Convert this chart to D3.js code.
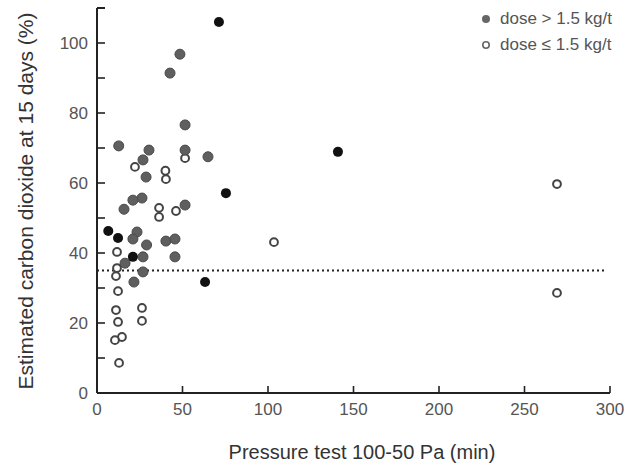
<!DOCTYPE html>
<html>
<head>
<meta charset="utf-8">
<script src="https://cdn.jsdelivr.net/npm/d3@7"></script>
<style>
  body { margin: 0; background: #fff; }
  text { font-family: "Liberation Sans", Arial, sans-serif; }
</style>
</head>
<body>
<div id="chart"></div>
<script>
// points: [pressure test (min), CO2 (%)]
const doseHigh = [
  [48.5, 96.8], [42.7, 91.4], [51.5, 76.6], [12.7, 70.6], [30.4, 69.4], [51.5, 69.4],
  [64.9, 67.5], [26.9, 66.6], [28.7, 61.7], [26.3, 55.7], [21, 55.1], [15.8, 52.5],
  [51.5, 53.7], [23.4, 46], [21, 44], [29, 42.3], [40.3, 43.4], [45.6, 44],
  [45.6, 38.9], [26.9, 38.9], [16.4, 37.1], [26.9, 34.6], [21.6, 31.7]
];
// same group, printed darker in the scan
const doseHighDark = [
  [71.3, 106], [75.4, 57.1], [140.9, 68.9], [63.2, 31.7], [12.3, 44.3], [21, 38.9], [6.6, 46.3]
];
const doseLow = [
  [51.5, 67.1], [22.2, 64.6], [40, 63.5], [40.3, 61.1], [36.3, 52.9], [36.3, 50.3],
  [46.2, 52], [11.7, 40.3], [11.7, 35.7], [11.1, 33.4], [12.3, 29.1], [11.1, 23.7],
  [12.3, 20.3], [26.3, 24.3], [26.3, 20.6], [14.6, 16], [10.5, 15.1], [12.9, 8.6],
  [103.5, 43.1], [269, 59.7], [269, 28.6]
];
const threshold = 35;
const xTicks = [0, 50, 100, 150, 200, 250, 300];
const yTicks = d3.range(0, 101, 10);
const yLabels = [0, 20, 40, 60, 80, 100];
const legendLabels = ["dose > 1.5 kg/t", "dose \u2264 1.5 kg/t"];

const width = 634, height = 469;
const svg = d3.select("#chart").append("svg")
  .attr("width", width).attr("height", height);

const x = d3.scaleLinear().domain([0, 300]).range([97, 610]);
const y = d3.scaleLinear().domain([0, 110]).range([393, 8]);

// axes
svg.append("line")
  .attr("x1", x(0)).attr("x2", x(300)).attr("y1", y(0)).attr("y2", y(0))
  .attr("stroke", "#222").attr("stroke-width", 2);
svg.append("line")
  .attr("x1", x(0)).attr("x2", x(0)).attr("y1", y(0)).attr("y2", y(110))
  .attr("stroke", "#222").attr("stroke-width", 2);
svg.append("line")
  .attr("x1", x(0)).attr("x2", x(0) + 8).attr("y1", y(110)).attr("y2", y(110))
  .attr("stroke", "#222").attr("stroke-width", 2);

svg.selectAll(".ytick").data(yTicks).enter().append("line")
  .attr("class", "ytick")
  .attr("x1", x(0)).attr("x2", x(0) + 8)
  .attr("y1", d => y(d)).attr("y2", d => y(d))
  .attr("stroke", "#222").attr("stroke-width", 1.6);
svg.selectAll(".ylab").data(yLabels).enter().append("text")
  .attr("class", "ylab")
  .attr("x", 88).attr("y", d => y(d) + 6)
  .attr("text-anchor", "end")
  .style("font-size", "17px").style("fill", "#555")
  .text(d => d);

svg.selectAll(".xtick").data(xTicks.slice(1)).enter().append("line")
  .attr("class", "xtick")
  .attr("x1", d => x(d)).attr("x2", d => x(d))
  .attr("y1", y(0)).attr("y2", y(0) - 7)
  .attr("stroke", "#222").attr("stroke-width", 1.6);
svg.selectAll(".xlab").data(xTicks).enter().append("text")
  .attr("class", "xlab")
  .attr("x", d => x(d)).attr("y", 415)
  .attr("text-anchor", "middle")
  .style("font-size", "17px").style("fill", "#555")
  .text(d => d);

// axis titles
svg.append("text")
  .attr("x", 362).attr("y", 459)
  .attr("text-anchor", "middle")
  .style("font-size", "20px").style("fill", "#333")
  .text("Pressure test 100-50 Pa (min)");
svg.append("text")
  .attr("transform", "translate(33,201) rotate(-90)")
  .attr("text-anchor", "middle")
  .style("font-size", "21px").style("fill", "#333")
  .text("Estimated carbon dioxide at 15 days (%)");

// threshold line
svg.append("line")
  .attr("x1", x(0)).attr("x2", x(300) - 3)
  .attr("y1", y(threshold)).attr("y2", y(threshold))
  .attr("stroke", "#222").attr("stroke-width", 2)
  .attr("stroke-dasharray", "2,3");

// points
svg.selectAll(".low").data(doseLow).enter().append("circle")
  .attr("class", "low")
  .attr("cx", d => x(d[0])).attr("cy", d => y(d[1]))
  .attr("r", 3.9)
  .attr("fill", "#fff").attr("stroke", "#444").attr("stroke-width", 2);
svg.selectAll(".high").data(doseHigh).enter().append("circle")
  .attr("class", "high")
  .attr("cx", d => x(d[0])).attr("cy", d => y(d[1]))
  .attr("r", 5)
  .attr("fill", "#5f5f5f").attr("stroke", "#4a4a4a").attr("stroke-width", 1);
svg.selectAll(".highDark").data(doseHighDark).enter().append("circle")
  .attr("class", "highDark")
  .attr("cx", d => x(d[0])).attr("cy", d => y(d[1]))
  .attr("r", 5)
  .attr("fill", "#111");

// legend
const legend = svg.append("g").attr("transform", "translate(486,19)");
legend.append("circle").attr("cx", 0).attr("cy", 0).attr("r", 4).attr("fill", "#666");
legend.append("circle").attr("cx", 0).attr("cy", 26).attr("r", 3.2)
  .attr("fill", "#fff").attr("stroke", "#666").attr("stroke-width", 1.6);
legend.selectAll("text").data(legendLabels).enter().append("text")
  .attr("x", 14).attr("y", (d, i) => i * 26 + 5)
  .style("font-size", "17px").style("fill", "#555")
  .text(d => d);
</script>
</body>
</html>
